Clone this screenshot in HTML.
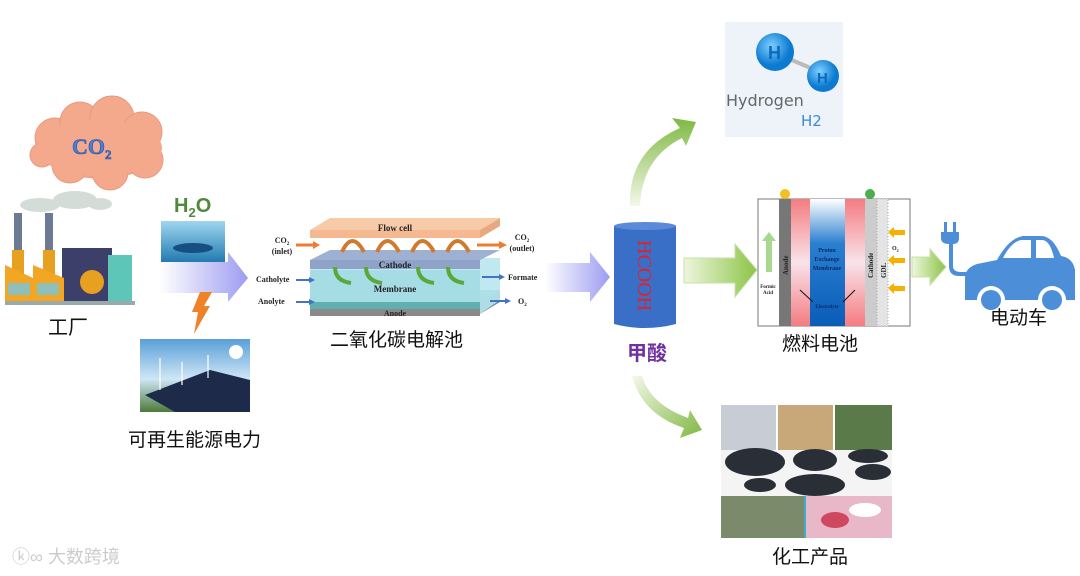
<!DOCTYPE html>
<html><head><meta charset="utf-8"><style>
html,body{margin:0;padding:0;background:#fff;width:1080px;height:576px;overflow:hidden}
svg{display:block}
.cn{font-family:"Liberation Sans","Noto Sans CJK SC",sans-serif;fill:#111}
.se{font-family:"Liberation Serif",serif;font-weight:bold;fill:#222}
</style></head><body>
<svg width="1080" height="576" viewBox="0 0 1080 576" xmlns="http://www.w3.org/2000/svg">
<defs>
<linearGradient id="pa" x1="0" x2="1"><stop offset="0" stop-color="#fff"/><stop offset="1" stop-color="#9d9cf2"/></linearGradient>
<linearGradient id="ga" x1="0" x2="1"><stop offset="0" stop-color="#eef6dd"/><stop offset="1" stop-color="#8cc447"/></linearGradient>
<linearGradient id="gu" x1="0" y1="1" x2="0" y2="0"><stop offset="0" stop-color="#f3f8e8"/><stop offset="1" stop-color="#7fb843"/></linearGradient>
<linearGradient id="gd" x1="0" y1="0" x2="1" y2="1"><stop offset="0" stop-color="#f3f8e8"/><stop offset="1" stop-color="#7fb843"/></linearGradient>
<linearGradient id="pem" x1="0" y1="0" x2="0" y2="1"><stop offset="0" stop-color="#fff"/><stop offset="0.35" stop-color="#2a7fd0"/><stop offset="1" stop-color="#0a5cb8"/></linearGradient>
<linearGradient id="pink" x1="0" y1="0" x2="0" y2="1"><stop offset="0" stop-color="#f47c80"/><stop offset="0.5" stop-color="#f8e3ea"/><stop offset="1" stop-color="#f47c80"/></linearGradient>
<linearGradient id="wat" x1="0" y1="0" x2="0" y2="1"><stop offset="0" stop-color="#9fd6f0"/><stop offset="1" stop-color="#1e78b0"/></linearGradient>
<linearGradient id="sky" x1="0" y1="0" x2="0" y2="1"><stop offset="0" stop-color="#5a9fd8"/><stop offset="0.55" stop-color="#cfe6f6"/><stop offset="1" stop-color="#4c7a3a"/></linearGradient>
<radialGradient id="hb" cx="0.4" cy="0.35"><stop offset="0" stop-color="#7fd0ff"/><stop offset="1" stop-color="#0b7ad0"/></radialGradient>
</defs>

<!-- cloud -->
<g fill="#f4a98c" stroke="#e89a80">
<ellipse cx="100" cy="148" rx="60" ry="30"/>
<circle cx="55" cy="138" r="20"/><circle cx="80" cy="122" r="20"/><circle cx="112" cy="118" r="22"/><circle cx="142" cy="132" r="20"/><circle cx="145" cy="160" r="18"/><circle cx="110" cy="172" r="18"/><circle cx="70" cy="165" r="18"/><circle cx="42" cy="155" r="12"/>
</g>
<ellipse cx="100" cy="148" rx="62" ry="28" fill="#f4a98c"/>
<text x="72" y="154" font-family="Liberation Serif,serif" font-weight="bold" font-size="22" fill="#4a7fd8" stroke="#2a4fa0" stroke-width="0.6">CO<tspan font-size="13" dy="5">2</tspan></text>

<!-- factory -->
<g>
<ellipse cx="40" cy="205" rx="20" ry="7" fill="#d4dcd8"/><ellipse cx="75" cy="200" rx="22" ry="9" fill="#d4dcd8"/><ellipse cx="100" cy="204" rx="12" ry="6" fill="#d4dcd8"/>
<rect x="14" y="213" width="8" height="40" fill="#6c7a94"/><rect x="45" y="213" width="8" height="40" fill="#6c7a94"/>
<rect x="12" y="250" width="12" height="25" fill="#e8a020"/><rect x="43" y="250" width="12" height="25" fill="#e8a020"/>
<rect x="62" y="248" width="50" height="55" fill="#3c3f6a"/>
<rect x="108" y="255" width="24" height="48" fill="#5dc6b8"/>
<polygon points="5,305 5,265 33,278 33,265 64,278 64,305" fill="#f2a623"/>
<rect x="8" y="283" width="22" height="12" fill="#8fbfbb"/><rect x="37" y="283" width="22" height="12" fill="#8fbfbb"/>
<circle cx="92" cy="282" r="12" fill="#e8a020"/>
<rect x="5" y="301" width="130" height="4" fill="#9aa"/>
</g>
<text x="48" y="334" class="cn" font-size="20">工厂</text>

<!-- H2O -->
<text x="174" y="212" font-family="Liberation Sans,sans-serif" font-size="20" fill="#4e8a3a" font-weight="bold">H<tspan font-size="13" dy="5">2</tspan><tspan dy="-5">O</tspan></text>
<rect x="161" y="221" width="64" height="42" fill="url(#wat)"/>
<ellipse cx="193" cy="248" rx="20" ry="5" fill="#164f80"/>
<polygon points="160,262 228,262 228,252 248,278 228,302 228,293 160,293" fill="url(#pa)"/>
<polygon points="200,292 212,292 204,306 210,306 194,334 198,312 192,312" fill="#ef8127"/>
<!-- solar -->
<rect x="140" y="339" width="110" height="73" fill="url(#sky)"/>
<polygon points="145,395 210,370 250,380 250,412 175,412" fill="#1d2a4a"/>
<circle cx="236" cy="352" r="7" fill="#fff"/>
<g stroke="#fff" stroke-width="1.2"><line x1="160" y1="358" x2="160" y2="390"/><line x1="182" y1="362" x2="182" y2="385"/><line x1="208" y1="355" x2="208" y2="378"/></g>
<text x="128" y="446" class="cn" font-size="19">可再生能源电力</text>

<!-- electrolyzer -->
<polygon points="310,301 330,290 500,290 480,301" fill="#55a8a8"/>
<rect x="310" y="301" width="170" height="8" fill="#5fb0ae"/>
<polygon points="480,301 500,290 500,302 480,314" fill="#6c8a8a"/>
<rect x="310" y="309" width="170" height="7" fill="#8a8a8a"/>
<polygon points="310,270 330,258 500,258 500,300 480,314 480,270" fill="#b8e6ee" opacity="0.9"/>
<rect x="310" y="270" width="170" height="32" fill="#a6dce3"/>
<polygon points="310,260 330,250 500,250 480,260" fill="#9fb1d2"/>
<rect x="310" y="260" width="170" height="9" fill="#8fa3c8"/>
<polygon points="310,230 330,218 500,218 480,230" fill="#f8cba8"/>
<rect x="310" y="230" width="170" height="8" fill="#f4b990"/>
<polygon points="480,230 500,218 500,226 480,238" fill="#e8a880"/>
<g fill="none" stroke="#d07a30" stroke-width="4">
<path d="M342,252 q10,-22 22,0"/><path d="M377,252 q10,-22 22,0"/><path d="M412,252 q10,-22 22,0"/><path d="M447,252 q10,-22 22,0"/>
</g>
<g fill="none" stroke="#5aa83a" stroke-width="4">
<path d="M335,267 q0,14 16,16"/><path d="M366,267 q0,14 16,16"/><path d="M418,267 q0,14 16,16"/><path d="M448,267 q0,14 16,16"/>
</g>
<text x="395" y="231" class="se" font-size="9" text-anchor="middle">Flow cell</text>
<text x="395" y="268" class="se" font-size="9" text-anchor="middle">Cathode</text>
<text x="395" y="292" class="se" font-size="9" text-anchor="middle">Membrane</text>
<text x="395" y="316" class="se" font-size="8" text-anchor="middle">Anode</text>
<text x="282" y="243" class="se" font-size="8" text-anchor="middle">CO<tspan font-size="5" dy="2">2</tspan></text>
<text x="282" y="254" class="se" font-size="8" text-anchor="middle">(inlet)</text>
<line x1="296" y1="245" x2="314" y2="245" stroke="#ed7d31" stroke-width="3"/><polygon points="313,241 320,245 313,249" fill="#ed7d31"/>
<text x="256" y="282" class="se" font-size="8">Catholyte</text>
<line x1="296" y1="280" x2="310" y2="280" stroke="#4472c4" stroke-width="2"/><polygon points="309,277 315,280 309,283" fill="#4472c4"/>
<text x="258" y="304" class="se" font-size="8">Anolyte</text>
<line x1="296" y1="302" x2="310" y2="302" stroke="#4472c4" stroke-width="2"/><polygon points="309,299 315,302 309,305" fill="#4472c4"/>
<line x1="477" y1="245" x2="500" y2="245" stroke="#ed7d31" stroke-width="3"/><polygon points="499,241 507,245 499,249" fill="#ed7d31"/>
<text x="522" y="240" class="se" font-size="8" text-anchor="middle">CO<tspan font-size="5" dy="2">2</tspan></text>
<text x="522" y="251" class="se" font-size="8" text-anchor="middle">(outlet)</text>
<line x1="482" y1="277" x2="500" y2="277" stroke="#4472c4" stroke-width="2"/><polygon points="499,274 505,277 499,280" fill="#4472c4"/>
<text x="508" y="280" class="se" font-size="8">Formate</text>
<line x1="490" y1="301" x2="506" y2="301" stroke="#4472c4" stroke-width="2"/><polygon points="505,298 511,301 505,304" fill="#4472c4"/>
<text x="518" y="304" class="se" font-size="8">O<tspan font-size="5" dy="2">2</tspan></text>
<text x="330" y="346" class="cn" font-size="19">二氧化碳电解池</text>

<!-- arrow to barrel -->
<polygon points="545,263 590,263 590,252 610,277 590,302 590,292 545,292" fill="url(#pa)"/>

<!-- barrel -->
<path d="M614,226 q31,-6 62,0 v98 q-31,8 -62,0 z" fill="#3a6fc8"/>
<ellipse cx="645" cy="226" rx="31" ry="4" fill="#5a8ad8"/>
<text transform="translate(638,240) rotate(90)" font-family="Liberation Serif,serif" font-size="20" fill="#e0202a">HCOOH</text>
<text x="627" y="360" font-family="Liberation Sans,'Noto Sans CJK SC',sans-serif" font-size="20" fill="#7030a0" font-weight="bold">甲酸</text>

<!-- up curved arrow -->
<path d="M630,206 q-2,-55 50,-78 l-8,-10 l24,4 l-10,24 l-4,-8 q-40,20 -42,68 z" fill="url(#gu)"/>
<!-- hydrogen -->
<rect x="725" y="22" width="118" height="115" fill="#eef3fa"/>
<line x1="780" y1="55" x2="820" y2="72" stroke="#bbb" stroke-width="4"/>
<circle cx="775" cy="52" r="19" fill="url(#hb)"/><circle cx="823" cy="76" r="16" fill="url(#hb)"/>
<text x="768" y="59" font-family="Liberation Sans,sans-serif" font-size="18" fill="#0a6ac0" font-weight="bold">H</text>
<text x="817" y="83" font-family="Liberation Sans,sans-serif" font-size="15" fill="#0a6ac0" font-weight="bold">H</text>
<text x="726" y="106" font-family="DejaVu Sans,sans-serif" font-size="16" fill="#666">Hydrogen</text>
<text x="801" y="126" font-family="DejaVu Sans,sans-serif" font-size="15" fill="#3a8ad8">H2</text>

<!-- arrow to fuel cell -->
<polygon points="684,258 735,258 735,244 757,270 735,297 735,283 684,283" fill="url(#ga)" stroke="#c8e0a8"/>

<!-- fuel cell -->
<rect x="758" y="199" width="152" height="127" fill="#fff" stroke="#777"/>
<rect x="779" y="199" width="12" height="127" fill="#777"/>
<rect x="791" y="199" width="19" height="127" fill="url(#pink)"/>
<rect x="810" y="199" width="35" height="127" fill="url(#pem)"/>
<rect x="845" y="199" width="20" height="127" fill="url(#pink)"/>
<rect x="865" y="199" width="12" height="127" fill="#ccc"/>
<rect x="877" y="199" width="11" height="127" fill="#e4e4e4" stroke="#aaa" stroke-dasharray="1 2"/>
<circle cx="785" cy="194" r="5" fill="#f2c020"/><circle cx="870" cy="194" r="5" fill="#4cae4c"/>
<rect x="766" y="240" width="6" height="32" fill="#a8d890"/><polygon points="762,241 769,232 776,241" fill="#a8d890"/>
<text x="768" y="288" class="se" font-size="5" text-anchor="middle">Formic</text>
<text x="768" y="294" class="se" font-size="5" text-anchor="middle">Acid</text>
<text transform="translate(788,275) rotate(-90)" class="se" font-size="7">Anode</text>
<text transform="translate(873,278) rotate(-90)" class="se" font-size="7">Cathode</text>
<text transform="translate(886,278) rotate(-90)" class="se" font-size="7">GDL</text>
<text x="827" y="252" font-family="Liberation Serif,serif" font-weight="bold" font-size="6" fill="#0a2a6a" text-anchor="middle">Proton</text>
<text x="827" y="261" font-family="Liberation Serif,serif" font-weight="bold" font-size="6" fill="#0a2a6a" text-anchor="middle">Exchange</text>
<text x="827" y="270" font-family="Liberation Serif,serif" font-weight="bold" font-size="6" fill="#0a2a6a" text-anchor="middle">Membrane</text>
<text x="827" y="308" font-family="Liberation Serif,serif" font-weight="bold" font-size="5" fill="#0a2a6a" text-anchor="middle">Electrolyte</text>
<line x1="800" y1="290" x2="813" y2="302" stroke="#111"/><line x1="855" y1="290" x2="843" y2="302" stroke="#111"/>
<g fill="#f5b000"><rect x="893" y="230" width="12" height="5"/><polygon points="894,227 888,232 894,238"/><rect x="893" y="258" width="12" height="5"/><polygon points="894,255 888,260 894,266"/><rect x="893" y="286" width="12" height="5"/><polygon points="894,283 888,288 894,294"/></g>
<text x="892" y="250" class="se" font-size="6">O<tspan font-size="4" dy="2">2</tspan></text>
<text x="782" y="350" class="cn" font-size="19">燃料电池</text>

<!-- arrow to car -->
<polygon points="912,257 930,257 930,249 946,267 930,285 930,277 912,277" fill="url(#ga)" stroke="#c8e0a8"/>

<!-- car -->
<g fill="#4c8fd8">
<rect x="944" y="222" width="3" height="10"/><rect x="953" y="222" width="3" height="10"/>
<path d="M941,232 h18 v6 q0,6 -6,6 v22 q0,6 8,6 h6 v4 h-8 q-10,0 -10,-10 v-22 q-8,0 -8,-6 z"/>
<path d="M965,300 v-22 q0,-10 12,-14 l20,-4 q12,-22 26,-24 h18 q12,0 20,20 q12,2 14,14 v30 z"/>
</g>
<path d="M1003,258 q8,-16 18,-18 h10 v18 z M1036,240 h6 q8,0 12,18 h-18 z" fill="#fff"/>
<circle cx="991" cy="300" r="14" fill="#fff"/><circle cx="991" cy="300" r="10" fill="#4c8fd8"/>
<circle cx="1052" cy="300" r="14" fill="#fff"/><circle cx="1052" cy="300" r="10" fill="#4c8fd8"/>
<text x="990" y="324" class="cn" font-size="19">电动车</text>

<!-- down curved arrow -->
<path d="M632,376 q10,38 52,52 l-4,10 l22,-8 l-12,-20 l-2,8 q-38,-14 -46,-42 z" fill="url(#gd)"/>

<!-- chemical products -->
<rect x="721" y="405" width="55" height="45" fill="#c8ccd4"/>
<rect x="778" y="405" width="55" height="45" fill="#c8a878"/>
<rect x="835" y="405" width="57" height="45" fill="#5a7a4a"/>
<rect x="721" y="450" width="171" height="46" fill="#f4f4f4"/>
<g fill="#2a2e36"><ellipse cx="755" cy="462" rx="30" ry="14"/><ellipse cx="815" cy="460" rx="22" ry="11"/><ellipse cx="868" cy="456" rx="20" ry="7"/><ellipse cx="760" cy="485" rx="16" ry="7"/><ellipse cx="815" cy="485" rx="30" ry="11"/><ellipse cx="873" cy="472" rx="18" ry="8"/></g>
<rect x="721" y="496" width="83" height="42" fill="#7a8a6a"/>
<rect x="804" y="496" width="2" height="42" fill="#3ab0c8"/>
<rect x="806" y="496" width="86" height="42" fill="#e8b8c8"/>
<ellipse cx="835" cy="520" rx="14" ry="8" fill="#d04860"/><ellipse cx="865" cy="510" rx="16" ry="7" fill="#fff"/>
<text x="772" y="563" class="cn" font-size="19">化工产品</text>

<!-- watermark -->
<text x="12" y="563" font-family="Liberation Sans,'Noto Sans CJK SC',sans-serif" font-size="18" fill="#ccc">ⓚ∞ 大数跨境</text>
</svg>
</body></html>
